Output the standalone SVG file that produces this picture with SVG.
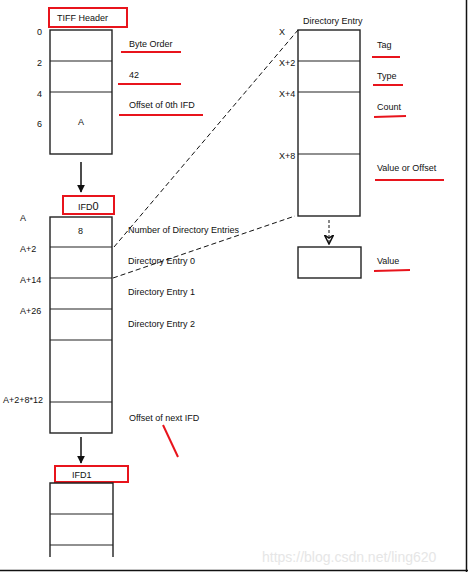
<svg xmlns="http://www.w3.org/2000/svg" width="468" height="572" viewBox="0 0 468 572">
<defs>
<style>
text{font-family:"Liberation Sans",Arial,sans-serif;font-size:9px;fill:#111}
.blk{fill:none;stroke:#222;stroke-width:1.4}
.div{stroke:#222;stroke-width:1.2}
.red{fill:none;stroke:#e8141c;stroke-width:2}
.ul{stroke:#e8141c;stroke-width:2;fill:none}
.dash{stroke:#111;stroke-width:1;stroke-dasharray:5,3;fill:none}
.arr{stroke:#111;stroke-width:1.5;fill:none}
</style>
<marker id="ah" viewBox="0 0 10 10" refX="9" refY="5" markerWidth="8" markerHeight="8" orient="auto" markerUnits="userSpaceOnUse"><path d="M0,0 L10,5 L0,10 z" fill="#111"/></marker>
<marker id="oh" viewBox="0 0 10 10" refX="9" refY="5" markerWidth="10" markerHeight="10" orient="auto" markerUnits="userSpaceOnUse"><path d="M0,0.5 L9,5 L0,9.5 L3,5 z" fill="none" stroke="#111" stroke-width="1.5"/></marker>
</defs>
<rect width="468" height="572" fill="#fff"/>

<g id="tiff-header">
<rect class="red" x="49" y="8" width="78" height="19"/>
<text x="57" y="21" font-size="9.5">TIFF Header</text>
<rect class="blk" x="50" y="30" width="62" height="124"/>
<line class="div" x1="50" y1="61" x2="112" y2="61"/>
<line class="div" x1="50" y1="92" x2="112" y2="92"/>
<text x="37" y="35">0</text>
<text x="37" y="66">2</text>
<text x="37" y="97">4</text>
<text x="37" y="127">6</text>
<text x="78" y="125">A</text>
<text x="129" y="47">Byte Order</text>
<line class="ul" x1="121" y1="52" x2="181" y2="52"/>
<text x="129" y="78">42</text>
<line class="ul" x1="118" y1="84" x2="181" y2="84"/>
<text x="129" y="108">Offset of 0th IFD</text>
<line class="ul" x1="119" y1="115" x2="203" y2="115"/>
</g>

<g id="ifd0">
<rect class="red" x="63" y="196" width="51" height="18"/>
<text x="78" y="210">IFD<tspan font-size="11">0</tspan></text>
<rect class="blk" x="50" y="217" width="62" height="216"/>
<line class="div" x1="50" y1="247" x2="112" y2="247"/>
<line class="div" x1="50" y1="278" x2="112" y2="278"/>
<line class="div" x1="50" y1="309" x2="112" y2="309"/>
<line class="div" x1="50" y1="340" x2="112" y2="340"/>
<line class="div" x1="50" y1="402" x2="112" y2="402"/>
<text x="20" y="221">A</text>
<text x="20" y="252">A+2</text>
<text x="20" y="283">A+14</text>
<text x="20" y="314">A+26</text>
<text x="3" y="403">A+2+8*12</text>
<text x="78" y="234" font-size="10">8</text>
<text x="128" y="233">Number of Directory Entries</text>
<text x="128" y="264">Directory Entry 0</text>
<text x="128" y="295">Directory Entry 1</text>
<text x="128" y="327">Directory Entry 2</text>
<text x="129" y="421">Offset of next IFD</text>
<line class="ul" x1="163" y1="425" x2="178" y2="457"/>
</g>

<g id="ifd1">
<rect class="red" x="55" y="466" width="73" height="16"/>
<text x="72" y="478">IFD1</text>
<path class="blk" d="M50,557 V483 H113 V557"/>
<line class="div" x1="50" y1="514" x2="113" y2="514"/>
<line class="div" x1="50" y1="545" x2="113" y2="545"/>
</g>

<g id="directory-entry">
<text x="303" y="24">Directory Entry</text>
<rect class="blk" x="298" y="30" width="62" height="186"/>
<line class="div" x1="298" y1="61" x2="360" y2="61"/>
<line class="div" x1="298" y1="92" x2="360" y2="92"/>
<line class="div" x1="298" y1="154" x2="360" y2="154"/>
<text x="279" y="35">X</text>
<text x="279" y="66">X+2</text>
<text x="279" y="97">X+4</text>
<text x="279" y="159">X+8</text>
<text x="377" y="48">Tag</text>
<line class="ul" x1="372" y1="57" x2="400" y2="57"/>
<text x="377" y="79">Type</text>
<line class="ul" x1="373" y1="85" x2="403" y2="85"/>
<text x="377" y="110">Count</text>
<line class="ul" x1="374" y1="117" x2="406" y2="116"/>
<text x="377" y="171">Value or Offset</text>
<line class="ul" x1="375" y1="180" x2="444" y2="180"/>
</g>

<g id="value">
<rect class="blk" x="298" y="247" width="63" height="31"/>
<text x="377" y="264">Value</text>
<line class="ul" x1="374" y1="271" x2="410" y2="270"/>
</g>

<g id="connectors">
<line class="arr" x1="81" y1="162" x2="81" y2="192" marker-end="url(#ah)"/>
<line class="arr" x1="81" y1="437" x2="81" y2="463" marker-end="url(#ah)"/>
<line class="dash" x1="114" y1="247" x2="298" y2="30"/>
<line class="dash" x1="113" y1="278" x2="295" y2="216"/>
<line stroke="#111" stroke-width="1" stroke-dasharray="3,2" x1="329" y1="220" x2="329" y2="244" marker-end="url(#oh)"/>
</g>

<text x="262" y="562" style="font-size:14px;fill:#e6e6e6">https://blog.csdn.net/ling620</text>
<line x1="466.5" y1="0" x2="466.5" y2="572" stroke="#111" stroke-width="1.5"/>
<line x1="0" y1="570.5" x2="468" y2="570.5" stroke="#111" stroke-width="1.5"/>
</svg>
